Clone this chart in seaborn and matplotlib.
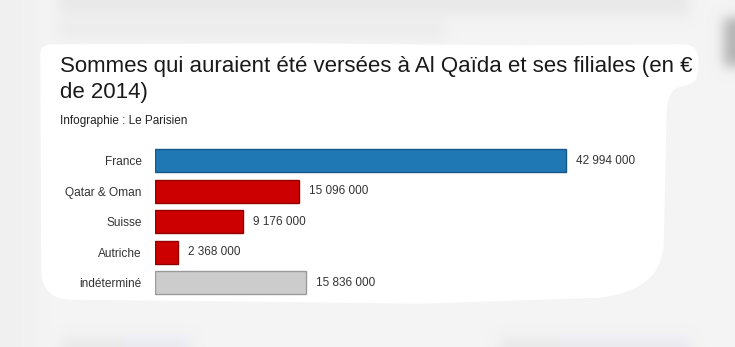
import numpy as np
import pandas as pd
import matplotlib
matplotlib.use("Agg")
import matplotlib.pyplot as plt
from matplotlib.path import Path
from matplotlib.patches import PathPatch
import seaborn as sns

# Data
categories = ["France", "Qatar & Oman", "Suisse", "Autriche", "indéterminé"]
amounts = [42994000, 15096000, 9176000, 2368000, 15836000]
value_labels = ["42 994 000", "15 096 000", "9 176 000", "2 368 000", "15 836 000"]
title_lines = ["Sommes qui auraient été versées à Al Qaïda et ses filiales (en €", "de 2014)"]
subtitle = "Infographie : Le Parisien"

bar_colors = {"France": "#1f77b4", "Qatar & Oman": "#cc0000", "Suisse": "#cc0000",
              "Autriche": "#cc0000", "indéterminé": "#cccccc"}
edge_colors = {"France": "#17578a", "Qatar & Oman": "#8f0000", "Suisse": "#8f0000",
               "Autriche": "#8f0000", "indéterminé": "#9a9a9a"}

W, H = 735, 347
sns.set_theme(style="white")
plt.rcParams["font.family"] = ["Liberation Sans", "DejaVu Sans"]

fig = plt.figure(figsize=(W / 100, H / 100), dpi=100)
fig.patch.set_facecolor("#f4f4f4")


def blur(img, sigma):
    r = int(3 * sigma)
    k = np.exp(-0.5 * (np.arange(-r, r + 1) / sigma) ** 2)
    k /= k.sum()
    pad = np.pad(img, r, mode="edge")
    tmp = np.apply_along_axis(lambda v: np.convolve(v, k, mode="valid"), 1, pad)
    return np.apply_along_axis(lambda v: np.convolve(v, k, mode="valid"), 0, tmp)


# Out-of-focus page behind the card
bg = np.full((H, W), 0.957)
bg[:, :36] = 0.945
bg[0:16, 58:690] = 0.915
bg[22:38, 58:445] = 0.925
bg[18:66, 724:735] = 0.70
bg[338:347, 62:190] = 0.915
bg[338:347, 500:690] = 0.915
bg = blur(bg, 6)
rgb = np.dstack([bg, bg, bg])
rgb[334:, 125:190, 2] = np.minimum(1, rgb[334:, 125:190, 2] + 0.025)
rgb[334:, 560:690, 2] = np.minimum(1, rgb[334:, 560:690, 2] + 0.02)
bgax = fig.add_axes([0, 0, 1, 1])
bgax.imshow(rgb, extent=(0, W, H, 0), aspect="auto", interpolation="bilinear")
bgax.set_xlim(0, W)
bgax.set_ylim(H, 0)
bgax.axis("off")

# White card with hand-cut edges
L, C3 = Path.LINETO, Path.CURVE3
card = [
    (Path.MOVETO, (41, 56)),
    (C3, (40, 45)), (C3, (52, 45)),
    (L, (300, 44)), (L, (520, 46)), (L, (684, 45)),
    (C3, (698, 45)), (C3, (698, 62)),
    (L, (697, 74)),
    (C3, (696, 84)), (C3, (680, 86)),
    (C3, (667, 90)), (C3, (666, 110)),
    (L, (663, 245)),
    (C3, (660, 290)), (C3, (600, 297)),
    (L, (420, 303)), (L, (260, 301)), (L, (70, 299)),
    (C3, (43, 298)), (C3, (42, 272)),
    (L, (41, 56)),
]
codes = [c for c, _ in card]
verts = [v for _, v in card]
bgax.add_patch(PathPatch(Path(verts, codes), facecolor="white", edgecolor="white", lw=1))

# Title block
for k, line in enumerate(title_lines):
    bgax.text(60, 72 + 26 * k, line, fontsize=16, color="#1a1a1a",
              va="baseline", ha="left")
bgax.text(60, 124, subtitle, fontsize=8.5, color="#222222", va="baseline", ha="left")

# Bar chart
df = pd.DataFrame({"categorie": categories, "montant": amounts})
x0, x_end_france = 155, 566
ax_w = W - x0
xmax = amounts[0] * ax_w / (x_end_france - x0)
top_px, pitch = 145.5, 30.5
ax = fig.add_axes([x0 / W, 1 - (top_px + pitch * len(categories)) / H,
                   ax_w / W, pitch * len(categories) / H])
ax.patch.set_alpha(0)
sns.barplot(data=df, y="categorie", x="montant", hue="categorie",
            palette=bar_colors, order=categories, hue_order=categories,
            width=0.76, legend=False, ax=ax, saturation=1)
for patch, cat in zip(ax.patches, categories):
    patch.set_edgecolor(edge_colors[cat])
    patch.set_linewidth(1)
ax.set_xlim(0, xmax)
ax.set_ylim(len(categories) - 0.5, -0.5)
ax.set_xlabel("")
ax.set_ylabel("")
ax.set_xticks([])
ax.tick_params(axis="y", length=0, pad=9.5, labelsize=8.6, labelcolor="#333333")
for s in ax.spines.values():
    s.set_visible(False)
for i, (v, lab) in enumerate(zip(amounts, value_labels)):
    ax.annotate(lab, (v, i), xytext=(10, 0), textcoords="offset pixels",
                va="center", ha="left", fontsize=8.5, color="#333333",
                annotation_clip=False)

fig.savefig("out.png", dpi=100, facecolor=fig.get_facecolor())
